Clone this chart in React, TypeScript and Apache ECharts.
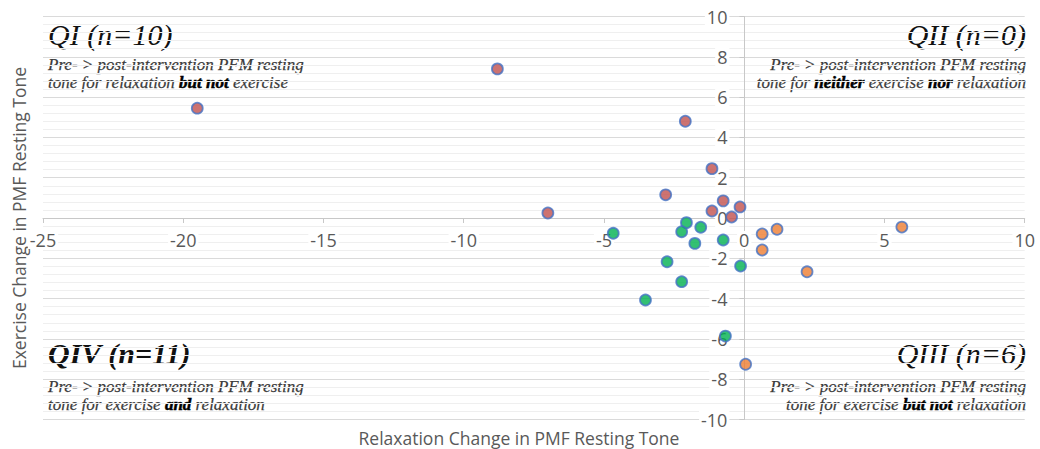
import React, { useEffect, useRef } from "react";
import * as echarts from "echarts";

const xTickValues = [-25, -20, -15, -10, -5, 0, 5, 10];
const yTickValues = [-10, -8, -6, -4, -2, 0, 2, 4, 6, 8, 10];

// QI: relaxation but not exercise (red)
const q1X = [-19.5, -8.8, -7.0, -2.1, -2.8, -1.15, -1.15, -0.75, -0.45, -0.15];
const q1Y = [5.45, 7.4, 0.25, 4.8, 1.15, 2.45, 0.35, 0.85, 0.05, 0.55];
// QIV: exercise and relaxation (green)
const q4X = [-4.67, -2.06, -2.23, -1.55, -1.76, -0.75, -2.75, -0.13, -2.23, -3.52, -0.67];
const q4Y = [-0.76, -0.23, -0.68, -0.46, -1.26, -1.09, -2.17, -2.38, -3.16, -4.07, -5.86];
// QIII: exercise but not relaxation (orange)
const q3X = [0.64, 1.17, 0.64, 2.24, 0.05, 5.62];
const q3Y = [-0.79, -0.56, -1.59, -2.67, -7.26, -0.45];

const xTitle = "Relaxation Change in PMF Resting Tone";
const yTitle = "Exercise Change in PMF Resting Tone";

const zip = (xs: number[], ys: number[]) => xs.map((x, i) => [x, ys[i]]);

const GRID_LEFT = 43;
const GRID_RIGHT = 15;
const GRID_TOP = 16.5;
const GRID_BOTTOM = 29.5;
const W = 1040;
const H = 449;

export default function App() {
  const ref = useRef<HTMLDivElement>(null);
  useEffect(() => {
    if (!ref.current) return;
    const chart = echarts.init(ref.current, undefined, { renderer: "svg" });
    const serif = "Liberation Serif";
    const sans = "Open Sans";
    const sub = {
      i: {
        fontFamily: serif, fontStyle: "italic", fontSize: 17, fill: "#3a3a3a", lineHeight: 18.5,
        stroke: "#555", lineWidth: 0.25,
      },
      b: {
        fontFamily: serif, fontStyle: "italic", fontWeight: "bold", fontSize: 17, fill: "#000", lineHeight: 18.5,
        stroke: "#000", lineWidth: 0.5,
      },
    };
    const titleStyle = {
      fontFamily: serif, fontStyle: "italic", fontSize: 30, fill: "#111",
    };
    const markerStyle = (c: string) => ({ color: c, borderColor: "#4472C4", borderWidth: 1.75 });
    const xMin = xTickValues[0];
    const xMax = xTickValues[xTickValues.length - 1];
    const yMin = yTickValues[0];
    const yMax = yTickValues[yTickValues.length - 1];
    const gw = W - GRID_LEFT - GRID_RIGHT;
    const gh = H - GRID_TOP - GRID_BOTTOM;
    const yAxisOffset = -((0 - xMin) / (xMax - xMin)) * gw;
    const xAxisOffset = -((0 - yMin) / (yMax - yMin)) * gh;
    chart.setOption({
      animation: false,
      backgroundColor: "#fff",
      grid: { left: GRID_LEFT, right: GRID_RIGHT, top: GRID_TOP, bottom: GRID_BOTTOM, containLabel: false },
      xAxis: {
        type: "value",
        position: "bottom",
        offset: xAxisOffset,
        min: xMin,
        max: xMax,
        interval: 5,
        axisLine: { show: true, onZero: false, lineStyle: { color: "#C8C8C8", width: 1 } },
        axisTick: { show: true, length: 5, lineStyle: { color: "#C8C8C8" } },
        axisLabel: {
          margin: 13,
          fontFamily: sans,
          fontSize: 18,
          color: "#595959",
          backgroundColor: "#fff",
          padding: [0, 2],
        },
        splitLine: { show: false },
      },
      yAxis: {
        type: "value",
        position: "left",
        offset: yAxisOffset,
        min: yMin,
        max: yMax,
        interval: 2,
        axisLine: { show: true, onZero: false, lineStyle: { color: "#C8C8C8", width: 1 } },
        axisTick: { show: true, length: 5, lineStyle: { color: "#C8C8C8" } },
        minorTick: { show: false, splitNumber: 5 },
        minorSplitLine: { show: true, lineStyle: { color: "#EFEFEF", width: 1 } },
        splitLine: { show: true, lineStyle: { color: "#DADADA", width: 1 } },
        axisLabel: {
          margin: 15,
          fontFamily: sans,
          fontSize: 18,
          color: "#595959",
          backgroundColor: "#fff",
          padding: [0, 2],
        },
      },
      series: [
        { type: "scatter", name: "QI", data: zip(q1X, q1Y), symbolSize: 11, itemStyle: markerStyle("#C0504D"), z: 5 },
        { type: "scatter", name: "QIV", data: zip(q4X, q4Y), symbolSize: 11, itemStyle: markerStyle("#00B050"), z: 5 },
        { type: "scatter", name: "QIII", data: zip(q3X, q3Y), symbolSize: 11, itemStyle: markerStyle("#ED7D31"), z: 5 },
      ],
      graphic: [
        {
          type: "text", x: 519, y: 438,
          style: { text: xTitle, fontFamily: sans, fontSize: 17.5, fill: "#595959", align: "center", verticalAlign: "middle" },
        },
        {
          type: "text", x: 19, y: 218, rotation: Math.PI / 2,
          style: { text: yTitle, fontFamily: sans, fontSize: 17.5, fill: "#595959", align: "center", verticalAlign: "middle" },
        },
        // QI
        {
          type: "text", x: 48, y: 19,
          style: { ...titleStyle, text: "QI (n=10)", verticalAlign: "top" },
        },
        {
          type: "text", x: 48, y: 55,
          style: {
            text: "{i|Pre- > post-intervention PFM resting}\n{i|tone for relaxation }{b|but not}{i| exercise}",
            rich: sub, verticalAlign: "top",
          },
        },
        // QII
        {
          type: "text", x: 1026, y: 19,
          style: { ...titleStyle, text: "QII (n=0)", align: "right", verticalAlign: "top" },
        },
        {
          type: "text", x: 1026, y: 55,
          style: {
            text: "{i|Pre- > post-intervention PFM resting}\n{i|tone for }{b|neither}{i| exercise }{b|nor}{i| relaxation}",
            rich: sub, align: "right", verticalAlign: "top",
          },
        },
        // QIV
        {
          type: "text", x: 48, y: 338,
          style: { ...titleStyle, text: "QIV (n=11)", fontWeight: "bold", verticalAlign: "top" },
        },
        {
          type: "text", x: 48, y: 377,
          style: {
            text: "{i|Pre- > post-intervention PFM resting}\n{i|tone for exercise }{b|and}{i| relaxation}",
            rich: sub, verticalAlign: "top",
          },
        },
        // QIII
        {
          type: "text", x: 1026, y: 338,
          style: { ...titleStyle, text: "QIII (n=6)", align: "right", verticalAlign: "top" },
        },
        {
          type: "text", x: 1026, y: 377,
          style: {
            text: "{i|Pre- > post-intervention PFM resting}\n{i|tone for exercise }{b|but not}{i| relaxation}",
            rich: sub, align: "right", verticalAlign: "top",
          },
        },
      ],
    });
    return () => chart.dispose();
  }, []);
  return (
    <div
      ref={ref}
      style={{ position: "fixed", left: 0, top: 0, width: W, height: H }}
    />
  );
}
